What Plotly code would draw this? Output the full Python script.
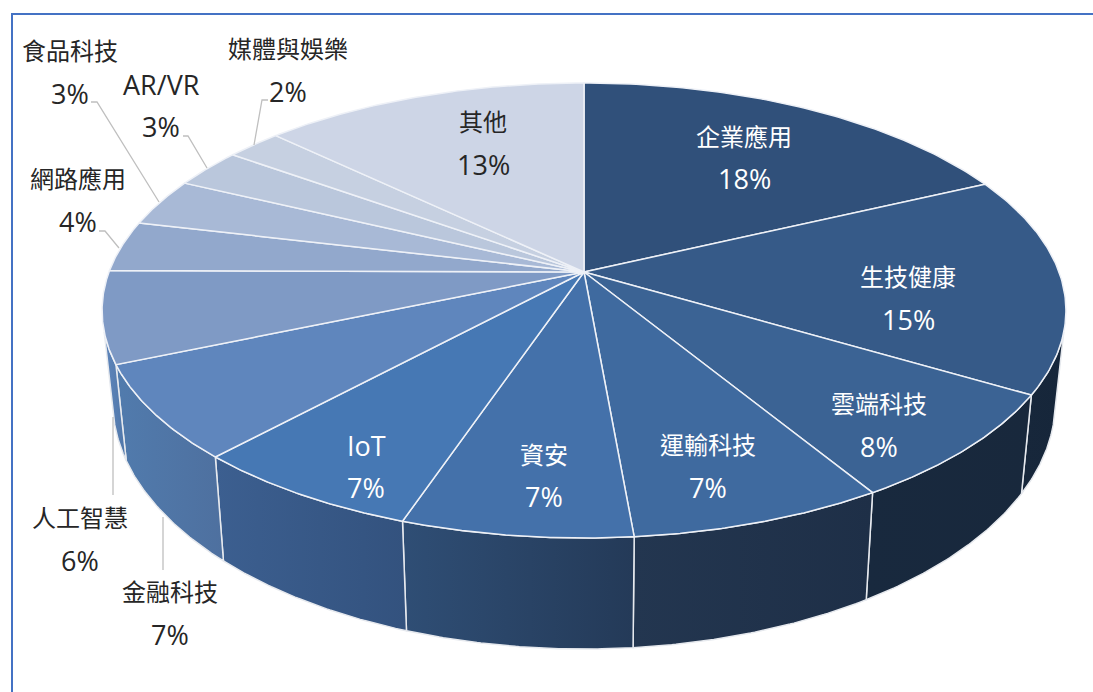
"""3D style pie chart of sectors, drawn on pixel scaled axes."""

import numpy as np
import plotly.graph_objects as go

categories = ["企業應用", "生技健康", "雲端科技", "運輸科技", "資安", "IoT", "金融科技",
              "人工智慧", "網路應用", "食品科技", "AR/VR", "媒體與娛樂", "其他"]
# slice sizes, labels as printed
shares = [18.0, 15.5, 7.8, 7.3, 6.6, 6.7, 6.7, 6.5, 3.6, 3.4, 2.8, 2.2, 12.9]
share_labels = ["18%", "15%", "8%", "7%", "7%", "7%", "7%", "6%", "4%", "3%", "3%", "2%", "13%"]

top_colors = ["#30507a", "#365a88", "#3b6394", "#3f6a9f", "#4471aa", "#4678b4", "#5f86bd",
              "#7f9ac5", "#92a8cc", "#a8b9d6", "#bac7dc", "#c6d0e1", "#cdd5e6"]
wall_left = ["#17273b", "#17273b", "#18293e", "#233650", "#2f4e75", "#3c5f90", "#517bad", "#5f86bc",
             "#5f86bc", "#5f86bc", "#5f86bc", "#5f86bc", "#5f86bc"]
wall_right = ["#16263a", "#16263a", "#18283c", "#1e2f47", "#243a58", "#33527e", "#4e709f", "#4f76a8",
              "#5f86bc", "#5f86bc", "#5f86bc", "#5f86bc", "#5f86bc"]

label_x = [744, 908, 879, 708, 544, 366, 170, 80, 78, 70, 161, 288, 483]
name_y = [136, 276, 403, 444, 454, 445, 591, 517, 178, 50, 84, 48, 121]
share_y = [178, 319, 446, 487, 496, 487, 634, 560, 221, 93, 126, 91, 164]
label_color = ["white"] * 6 + ["#262626"] * 6 + ["#262626"]

leaders = {
    "媒體與娛樂": ([268, 262, 254], [100, 100, 145]),
    "AR/VR": ([183, 188, 207], [136, 136, 168]),
    "食品科技": ([91, 97, 159], [102, 102, 202]),
    "網路應用": ([99, 105, 119], [231, 231, 248]),
    "人工智慧": ([113, 113], [417, 495]),
    "金融科技": ([163, 163], [517, 570]),
}

CX, CY, A, B, K = 584, 272, 475, 221, 0.169
FONT = "Open Sans, Noto Sans CJK TC"


def top_point(theta):
    """Project an angle (degrees clockwise from 12 o'clock) on to the tilted top rim."""
    rad = np.radians(theta)
    w = 1 + K * np.cos(rad)
    return CX + A * np.sin(rad) / w, CY - B * np.cos(rad) / w


def bottom_point(theta):
    x, y = top_point(theta)
    return CX + (x - CX) * 0.978, y + 96 + (y - 365) * 0.087


fig = go.Figure()
edges = np.cumsum([0] + shares) * 3.6

# side walls first, only the part facing the viewer
for i in range(len(shares)):
    start, stop = max(edges[i], 105), min(edges[i + 1], 255)
    if stop <= start:
        continue
    thetas = np.linspace(start, stop, 60)
    tx, ty = top_point(thetas)
    bx, by = bottom_point(thetas[::-1])
    fig.add_scatter(
        x=np.r_[tx, bx, tx[0]], y=np.r_[ty, by, ty[0]],
        mode="lines", line={"color": "#e6e9ee", "width": 1.5}, fill="toself",
        fillgradient={"type": "horizontal", "colorscale": [[0, wall_left[i]], [1, wall_right[i]]]},
    )

for i in range(len(shares)):
    thetas = np.linspace(edges[i], edges[i + 1], 80)
    tx, ty = top_point(thetas)
    fig.add_scatter(
        x=np.r_[CX, tx, CX], y=np.r_[CY, ty, CY],
        mode="lines", line={"color": "#eef1f7", "width": 1.5}, fill="toself", fillcolor=top_colors[i],
    )

for xs, ys in leaders.values():
    fig.add_scatter(x=xs, y=ys, mode="lines", line={"color": "#bfbfbf", "width": 1.3})

for i, name in enumerate(categories):
    for text, y in ((name, name_y[i]), (share_labels[i], share_y[i])):
        # latin glyphs sit larger than the CJK ones in the original font
        size = 27 if text.isascii() else 24
        fig.add_annotation(
            x=label_x[i], y=y, text=text, showarrow=False, xanchor="center", yanchor="middle",
            font={"family": FONT, "size": size, "color": label_color[i]},
        )

# blue frame of the original slide, it runs off the right and bottom of the crop
fig.add_shape(type="rect", x0=12, y0=14, x1=1120, y1=720, line={"color": "#4472c4", "width": 2})

fig.update_layout(
    width=1093, height=692, margin={"l": 0, "r": 0, "t": 0, "b": 0},
    showlegend=False, hovermode=False, plot_bgcolor="white", paper_bgcolor="white",
    xaxis={"range": [0, 1093], "visible": False, "fixedrange": True},
    yaxis={"range": [692, 0], "visible": False, "fixedrange": True},
)
fig.write_html(
    "out.html",
    config={"displayModeBar": False},
    post_script="document.body.style.margin = '0'; document.body.style.overflow = 'hidden';",
)
